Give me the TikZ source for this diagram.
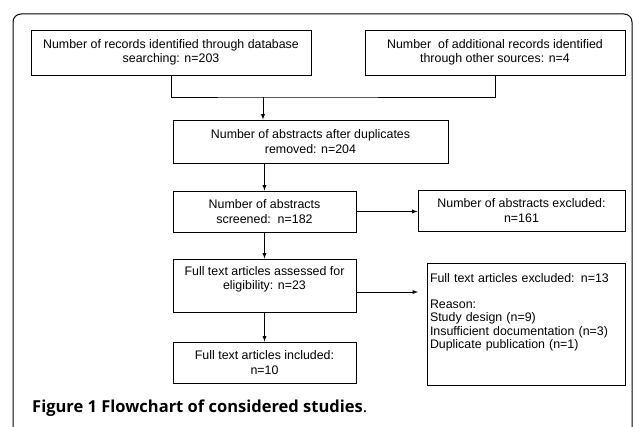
\documentclass[tikz,border=0pt]{standalone}
\usepackage{fontspec}
\setmainfont{Liberation Sans}
\newfontfamily\capfont{Open Sans}
\usetikzlibrary{arrows,positioning,calc}

\begin{document}
\begin{tikzpicture}[x=1pt,y=-1pt,>=latex,
  flowbox/.style={rectangle,draw,line width=0.9pt,align=center,inner sep=2pt,
    font=\fontsize{12.4}{14.5}\selectfont},
  flowline/.style={line width=0.9pt}]
  \useasboundingbox (0,0) rectangle (633,427);

  % Outer frame
  \draw[line width=1pt,rounded corners=8] (13,427) -- (13,14) -- (632,14) -- (632,427);

  % Record sources
  \node[flowbox,minimum width=280,minimum height=45] (dbrec) at (171,52.5) {Number of records identified through database\\searching: n=203};
  \node[flowbox,minimum width=260,minimum height=45] (othrec) at (495,52.5) {Number\ \ of additional records identified\\through other sources: n=4};

  % Main column
  \node[flowbox,minimum width=275,minimum height=43] (dedup) at (310.5,141.5) {Number of abstracts after duplicates\\removed: n=204};
  \node[flowbox,minimum width=183,minimum height=41] (screen) at (264.5,211.5) {Number of abstracts\\screened:\ \ n=182};
  \node[flowbox,minimum width=183,minimum height=53] (fulltext) at (264.5,285.5) {Full text articles assessed for\\eligibility: n=23\\\mbox{}};
  \node[flowbox,minimum width=183,minimum height=41] (included) at (264.5,362.5) {Full text articles included:\\n=10};

  % Exclusions
  \node[flowbox,minimum width=198,minimum height=122,text width=192,align=left,inner sep=3pt,
    font=\fontsize{12.4}{13.2}\selectfont] (fullout) at (526,324)
    {Full text articles excluded: n=13\\\mbox{}\\Reason:\\Study design (n=9)\\Insufficient documentation (n=3)\\Duplicate publication (n=1)\\\mbox{}\\\mbox{}};
  \node[flowbox,minimum width=207,minimum height=41] (screenout) at (521.5,210.5) {Number of abstracts excluded:\\n=161};

  % Connectors
  \coordinate (join) at (263,97);
  \draw[flowline] (dbrec.south) |- (join) -| (othrec.south);
  \draw[flowline,->] (join) -- (join |- dedup.north);
  \draw[flowline,->] (screen.north |- dedup.south) -- (screen.north);
  \draw[flowline,->] (screen.east) -- (screen.east -| screenout.west);
  \draw[flowline,->] (screen.south) -- (fulltext.north);
  \coordinate (tip) at (418,292);
  \draw[flowline,->] (tip -| fulltext.east) -- (tip);
  \draw[flowline,->] (fulltext.south) -- (included.north);

  % Caption
  \node[anchor=base west,inner sep=0pt,font=\capfont\fontsize{16.5}{20}\selectfont] (caption) at (32,413)
    {\textbf{Figure 1 Flowchart of considered studies}.};
\end{tikzpicture}
\end{document}
